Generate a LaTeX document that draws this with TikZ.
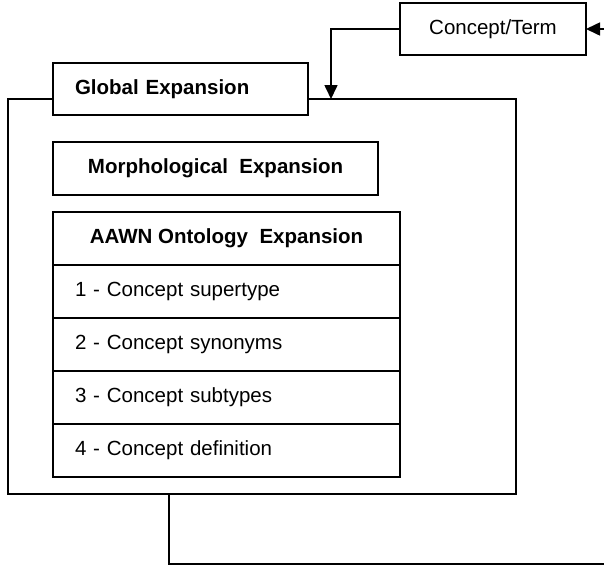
\documentclass[tikz,border=0pt]{standalone}
\usepackage{fontspec}
\setmainfont{Liberation Sans}
\usetikzlibrary{arrows.meta}

\tikzset{
  box/.style={draw, line width=1.6pt, fill=white, inner sep=0pt, outer sep=0pt,
    font=\fontsize{20.5}{24}\selectfont},
  boldbox/.style={box, font=\fontsize{20.5}{24}\selectfont\bfseries},
  leftalign/.style={inner xsep=22pt, align=left},
  rowbox/.style={box, leftalign, text width=303pt, minimum height=53pt, anchor=north},
  wire/.style={line width=1.6pt},
  arrow/.style={wire, -{Triangle[length=14pt,width=13pt]}}
}

\begin{document}
\begin{tikzpicture}[x=1pt,y=-1pt]
  \useasboundingbox (0,0) rectangle (604,566);

  % outer container
  \node[box, fill=none, minimum width=508pt, minimum height=395pt] (outer) at (262,296.5) {};

  % input term
  \node[box, minimum width=186pt, minimum height=52pt] (concept) at (493,29) {Concept/Term};
  \coordinate (in) at (604,29);

  % title tab of the container
  \node[boldbox, leftalign, text width=211pt, minimum height=52pt] (global) at (180.5,89) {Global Expansion};

  % morphological step
  \node[boldbox, minimum width=325pt, minimum height=53pt] (morph) at (215.5,168.5) {Morphological\ \ Expansion};

  % ontology step and its four sub-steps
  \node[boldbox, minimum width=347pt, minimum height=53pt] (aawn) at (226.5,238.5) {AAWN Ontology\ \ Expansion};
  \node[rowbox] (r1) at (aawn.south) {1 - Concept supertype};
  \node[rowbox] (r2) at (r1.south) {2 - Concept synonyms};
  \node[rowbox] (r3) at (r2.south) {3 - Concept subtypes};
  \node[rowbox] (r4) at (r3.south) {4 - Concept definition};

  % connectors
  \draw[arrow] (in) -- (concept.east);
  \draw[arrow] (concept.west) -| ([xshift=323pt]outer.north west);
  \coordinate (out) at (604,564);
  \draw[wire] ([xshift=161pt]outer.south west) |- (out);
\end{tikzpicture}
\end{document}
